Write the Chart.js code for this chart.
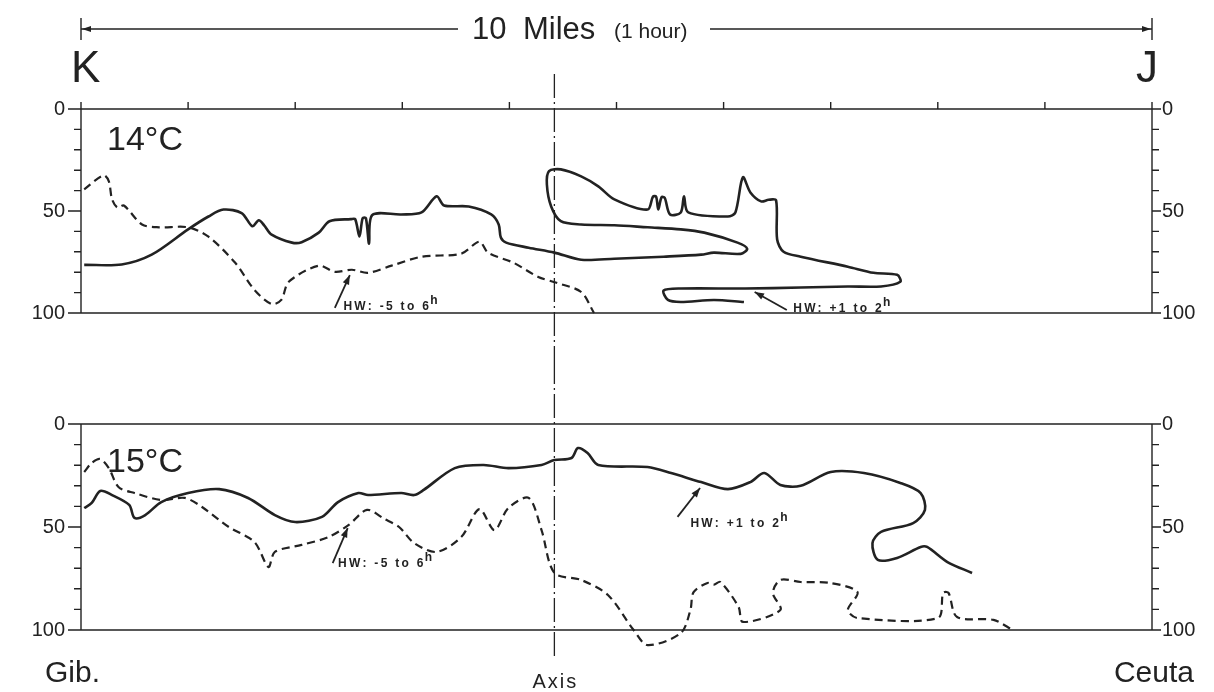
<!DOCTYPE html>
<html>
<head>
<meta charset="utf-8">
<script src="https://cdn.jsdelivr.net/npm/chart.js@4.4.0/dist/chart.umd.min.js"></script>
<style>
  body { margin: 0; background: #fff; width: 1214px; height: 692px; overflow: hidden; position: relative; }
  canvas { position: absolute; left: 0; }
  #topChart { top: 0; }
  #botChart { top: 360px; }
</style>
</head>
<body>
<canvas id="topChart" width="1214" height="360"></canvas>
<canvas id="botChart" width="1214" height="332"></canvas>
<script>
// distance along section K-J (miles) and depth (m)
const mileTicks = [0, 1, 2, 3, 4, 5, 6, 7, 8, 9, 10];
const depthTicks = [0, 10, 20, 30, 40, 50, 60, 70, 80, 90, 100];
const depthLabels = [0, 50, 100];
const axisMile = 4.42;

// 14 C isotherm, HW +1 to 2h (solid)
const t14SolidX = [0.03, 0.38, 0.66, 1.0, 1.19, 1.33, 1.5, 1.6, 1.66, 1.71, 1.78, 1.97, 2.06, 2.22, 2.32, 2.52,
  2.56, 2.6, 2.63, 2.66, 2.69, 2.72, 2.99, 3.18, 3.32, 3.39, 3.62, 3.83, 3.9, 3.92, 3.97, 4.18, 4.42, 4.67,
  4.98, 5.44, 5.79, 5.91, 6.16, 6.22, 6.13, 5.82, 5.6, 5.29, 4.98, 4.67, 4.48, 4.39, 4.35, 4.37, 4.48, 4.67,
  4.83, 4.98, 5.29, 5.34, 5.37, 5.39, 5.42, 5.45, 5.5, 5.6, 5.63, 5.67, 6.04, 6.11, 6.18, 6.25, 6.35, 6.42,
  6.49, 6.5, 6.56, 6.72, 7.16, 7.4, 7.62, 7.65, 7.47, 7.16, 6.72, 6.2, 5.6, 5.44, 5.48, 5.6, 5.91, 6.19];
const t14SolidY = [76.4, 76.2, 71.4, 59, 52.7, 49.3, 51, 57.5, 54.5, 57, 61.6, 65.5, 65.3, 60.6, 55, 54,
  54, 62.5, 53.5, 53.5, 66, 52, 51.7, 50.7, 42.8, 47.3, 47.8, 51.7, 56.6, 63, 65.5, 68, 70.4, 73.9,
  73.4, 72.4, 71.4, 70.4, 71, 68.5, 65.5, 60.6, 59, 58, 57, 56.6, 55, 47.8, 37, 30.5, 29.6, 33,
  37.9, 44.3, 49.3, 43, 43, 49.3, 43.3, 43.5, 51.7, 50.7, 42.8, 50.7, 52.7, 50.7, 33.5, 40.9, 45.3, 44.5,
  44.8, 64, 70, 72.4, 77.3, 80.3, 81.3, 84.7, 87, 87, 87.5, 88, 88, 89, 93.6, 94.6, 93.6, 94.6];

// 14 C isotherm, HW -5 to 6h (dashed)
const t14DashX = [0.03, 0.21, 0.26, 0.29, 0.34, 0.4, 0.57, 0.73, 1.0, 1.19, 1.44, 1.62, 1.78, 1.87, 1.94,
  2.22, 2.37, 2.53, 2.68, 2.9, 3.18, 3.55, 3.72, 3.8, 4.04, 4.27, 4.44, 4.67, 4.79];
const t14DashY = [39.4, 32.5, 35.5, 44.3, 48.3, 47.3, 56.6, 58, 58, 62.6, 75.4, 88.7, 95.6, 93.6, 84.7,
  76.8, 79.8, 78.8, 80.3, 76.8, 72.4, 70.9, 65, 70.4, 75.4, 82.3, 85.2, 89.7, 100];

// 15 C isotherm, HW +1 to 2h (solid)
const t15SolidX = [0.03, 0.1, 0.18, 0.29, 0.45, 0.5, 0.6, 0.75, 1.0, 1.29, 1.56, 1.81, 2.0, 2.25, 2.4, 2.59,
  2.68, 2.99, 3.11, 3.2, 3.49, 3.76, 3.99, 4.3, 4.42, 4.58, 4.64, 4.73, 4.83, 5.29, 5.51, 5.79, 6.04, 6.25,
  6.38, 6.53, 6.72, 7.0, 7.31, 7.65, 7.84, 7.88, 7.77, 7.47, 7.39, 7.44, 7.62, 7.84, 7.9, 8.09, 8.32];
const t15SolidY = [40.8, 38.3, 32.5, 34.5, 39.3, 45.6, 44.2, 37.9, 33.5, 31.6, 35.9, 44.2, 47.6, 45.1, 37.9, 33.5,
  34.5, 33.5, 34.5, 32, 21.4, 19.9, 21.4, 19.9, 17.5, 16.5, 11.7, 14.1, 19.9, 20.9, 23.8, 28.2, 31.6, 28.2,
  23.8, 29.6, 30, 23.3, 23.8, 28.6, 33.5, 41.7, 48.1, 52.4, 57.8, 66, 65, 59.7, 59.7, 67, 72.3];

// 15 C isotherm, HW -5 to 6h (dashed)
const t15DashX = [0.03, 0.1, 0.18, 0.26, 0.35, 0.5, 0.75, 0.97, 1.13, 1.38, 1.62, 1.75, 1.81, 2.06, 2.31, 2.5,
  2.67, 2.83, 2.97, 3.11, 3.32, 3.55, 3.72, 3.86, 3.99, 4.18, 4.3, 4.42, 4.67, 4.92, 5.16, 5.29, 5.6, 5.69,
  5.72, 5.85, 5.91, 5.97, 6.14, 6.18, 6.53, 6.46, 6.53, 6.72, 7.0, 7.25, 7.16, 7.25, 8.0, 8.05, 8.1, 8.18,
  8.52, 8.7];
const t15DashY = [23.3, 18.9, 17, 21.4, 30.6, 33.5, 36.9, 35.9, 40.3, 50, 57.3, 69.4, 62.1, 58.7, 54.9, 49,
  41.7, 46, 50, 57.8, 62.1, 54.9, 41.3, 51.5, 40.8, 35.9, 51.5, 72.3, 75.7, 83, 100, 107.3, 101.5, 90.3,
  81.6, 77.2, 78, 76.7, 88.8, 96.1, 90.3, 82, 75.7, 76.7, 77.2, 81.6, 90.3, 94.2, 94.2, 82, 82, 93.7,
  95.1, 100];

const INK = '#222';
const FONT = '"Liberation Sans", Arial, sans-serif';

function zip(xs, ys) {
    return xs.map((x, i) => ({ x: x, y: ys[i] }));
}

function lineSet(xs, ys, dashed) {
    return {
        data: zip(xs, ys),
        showLine: true,
        borderColor: INK,
        borderWidth: dashed ? 2.2 : 2.6,
        borderDash: dashed ? [8, 5] : [],
        tension: 0.3,
        pointRadius: 0,
        clip: false
    };
}

function arrow(ctx, x1, y1, x2, y2) {
    const a = Math.atan2(y2 - y1, x2 - x1);
    ctx.beginPath();
    ctx.moveTo(x1, y1);
    ctx.lineTo(x2, y2);
    ctx.stroke();
    ctx.beginPath();
    ctx.moveTo(x2, y2);
    ctx.lineTo(x2 - 10 * Math.cos(a - 0.35), y2 - 10 * Math.sin(a - 0.35));
    ctx.lineTo(x2 - 10 * Math.cos(a + 0.35), y2 - 10 * Math.sin(a + 0.35));
    ctx.closePath();
    ctx.fill();
}

// HW note with arrow, placed in data units
function hwNote(chart, n) {
    const ctx = chart.ctx, sx = chart.scales.x, sy = chart.scales.y;
    ctx.lineWidth = 1.8;
    arrow(ctx, sx.getPixelForValue(n.tail[0]), sy.getPixelForValue(n.tail[1]),
        sx.getPixelForValue(n.head[0]), sy.getPixelForValue(n.head[1]));
    let px = sx.getPixelForValue(n.at[0]);
    const py = sy.getPixelForValue(n.at[1]);
    ctx.font = 'bold 12px ' + FONT;
    ctx.letterSpacing = '2.3px';
    ctx.textAlign = 'left';
    ctx.textBaseline = 'alphabetic';
    ctx.fillText(n.text, px, py);
    px += ctx.measureText(n.text).width - 1;
    ctx.font = 'bold 12px ' + FONT;
    ctx.letterSpacing = '0px';
    ctx.fillText('h', px, py - 6);
}

const framePlugin = {
    id: 'frame',
    afterDatasetsDraw(chart, args, o) {
        const ctx = chart.ctx, sx = chart.scales.x, sy = chart.scales.y;
        const L = sx.getPixelForValue(0), R = sx.getPixelForValue(10);
        const T = sy.getPixelForValue(0), B = sy.getPixelForValue(100);
        ctx.save();
        ctx.strokeStyle = INK;
        ctx.fillStyle = INK;
        ctx.lineWidth = 1.4;
        ctx.beginPath();
        ctx.moveTo(L, T); ctx.lineTo(R, T);
        ctx.moveTo(L, B); ctx.lineTo(R, B);
        ctx.moveTo(L, T); ctx.lineTo(L, B);
        ctx.moveTo(R, T); ctx.lineTo(R, B);
        depthTicks.forEach(v => {
            const py = sy.getPixelForValue(v);
            const major = depthLabels.includes(v);
            ctx.moveTo(L - (major ? 13 : 7), py); ctx.lineTo(L, py);
            ctx.moveTo(R, py); ctx.lineTo(R + (major ? 9 : 7), py);
        });
        if (o.mileTicks) {
            mileTicks.forEach(m => {
                const px = sx.getPixelForValue(m);
                ctx.moveTo(px, T - 7); ctx.lineTo(px, T);
            });
        }
        ctx.stroke();

        ctx.font = '20px ' + FONT;
        ctx.textBaseline = 'middle';
        depthLabels.forEach(v => {
            const py = sy.getPixelForValue(v);
            ctx.textAlign = 'right';
            ctx.fillText(String(v), L - 16, py);
            ctx.textAlign = 'left';
            ctx.fillText(String(v), R + 10, py);
        });

        // dash-dot axis of the strait
        const ax = sx.getPixelForValue(axisMile);
        ctx.lineWidth = 1.3;
        ctx.setLineDash([24, 4, 2, 4]);
        ctx.beginPath();
        ctx.moveTo(ax, o.axisFrom);
        ctx.lineTo(ax, o.axisTo);
        ctx.stroke();
        ctx.setLineDash([]);

        ctx.font = '34px ' + FONT;
        ctx.textAlign = 'left';
        ctx.textBaseline = 'alphabetic';
        ctx.fillText(o.temp, L + 26, o.tempY);

        o.notes.forEach(n => hwNote(chart, n));
        if (o.extra) o.extra(chart, L, R);
        ctx.restore();
    }
};

function topExtras(chart, L, R) {
    const ctx = chart.ctx;
    // 10 mile scale bar
    ctx.lineWidth = 1.4;
    ctx.beginPath();
    ctx.moveTo(L, 29); ctx.lineTo(458, 29);
    ctx.moveTo(710, 29); ctx.lineTo(R, 29);
    ctx.moveTo(L, 18); ctx.lineTo(L, 40);
    ctx.moveTo(R, 18); ctx.lineTo(R, 40);
    ctx.stroke();
    ctx.beginPath();
    ctx.moveTo(L + 1, 29); ctx.lineTo(L + 10, 26); ctx.lineTo(L + 10, 32); ctx.closePath();
    ctx.moveTo(R - 1, 29); ctx.lineTo(R - 10, 26); ctx.lineTo(R - 10, 32); ctx.closePath();
    ctx.fill();
    ctx.textAlign = 'left';
    ctx.textBaseline = 'alphabetic';
    ctx.font = '31px ' + FONT;
    ctx.fillText('10', 472, 39);
    ctx.fillText('Miles', 523, 39);
    ctx.font = '21px ' + FONT;
    ctx.fillText('(1 hour)', 614, 38);
    ctx.font = '44px ' + FONT;
    ctx.fillText('K', L - 10, 82);
    ctx.textAlign = 'right';
    ctx.fillText('J', R + 6, 82);
}

function botExtras(chart, L, R) {
    const ctx = chart.ctx;
    ctx.textBaseline = 'alphabetic';
    ctx.font = '30px ' + FONT;
    ctx.textAlign = 'left';
    ctx.fillText('Gib.', 45, 322);
    ctx.textAlign = 'right';
    ctx.fillText('Ceuta', 1194, 322);
    ctx.font = '20px ' + FONT;
    ctx.textAlign = 'center';
    ctx.letterSpacing = '2px';
    ctx.fillText('Axis', chart.scales.x.getPixelForValue(axisMile) + 1, 328);
    ctx.letterSpacing = '0px';
}

function makeChart(id, datasets, pad, frame) {
    return new Chart(document.getElementById(id), {
        type: 'scatter',
        data: { datasets: datasets },
        options: {
            responsive: false,
            animation: false,
            devicePixelRatio: 1,
            layout: { padding: pad },
            scales: {
                x: { type: 'linear', min: 0, max: 10, display: false },
                y: { type: 'linear', min: 0, max: 100, reverse: true, display: false }
            },
            plugins: {
                legend: { display: false },
                tooltip: { enabled: false },
                frame: frame
            }
        },
        plugins: [framePlugin]
    });
}

makeChart('topChart',
    [lineSet(t14SolidX, t14SolidY, false), lineSet(t14DashX, t14DashY, true)],
    { left: 81, right: 62, top: 109, bottom: 47 },
    {
        mileTicks: true, axisFrom: 74, axisTo: 360, temp: '14°C', tempY: 150,
        notes: [
            { text: 'HW: -5 to 6', tail: [2.37, 97.5], head: [2.51, 81.4], at: [2.45, 98.5] },
            { text: 'HW: +1 to 2', tail: [6.59, 98.5], head: [6.29, 89.7], at: [6.65, 99.5] }
        ],
        extra: topExtras
    });

makeChart('botChart',
    [lineSet(t15SolidX, t15SolidY, false), lineSet(t15DashX, t15DashY, true)],
    { left: 81, right: 62, top: 64, bottom: 62 },
    {
        mileTicks: false, axisFrom: 0, axisTo: 300, temp: '15°C', tempY: 112,
        notes: [
            { text: 'HW: -5 to 6', tail: [2.35, 67.5], head: [2.49, 50.5], at: [2.4, 69.4] },
            { text: 'HW: +1 to 2', tail: [5.57, 45.1], head: [5.78, 31.1], at: [5.69, 50] }
        ],
        extra: botExtras
    });
</script>
</body>
</html>
